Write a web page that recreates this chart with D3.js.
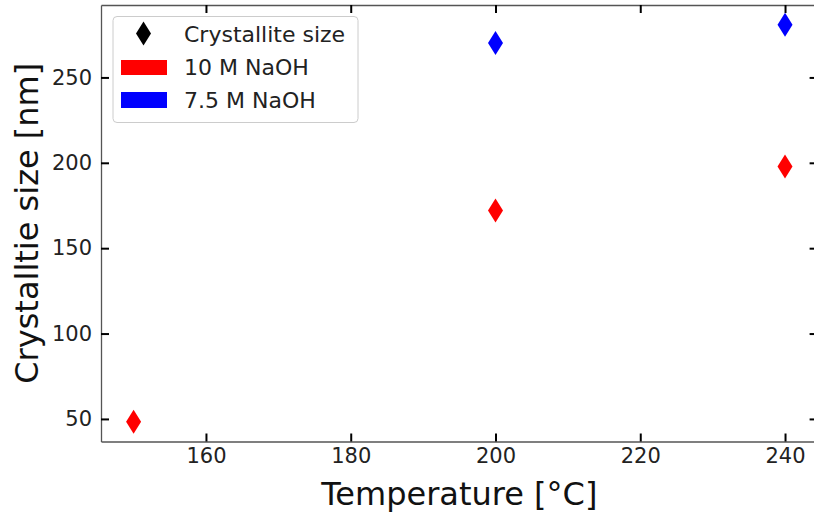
<!DOCTYPE html>
<html><head><meta charset="utf-8">
<script src="https://cdn.jsdelivr.net/npm/d3@7"></script>
<style>body{margin:0;background:#fff;} svg{display:block;font-family:"DejaVu Sans",sans-serif;}</style>
</head><body>
<svg id="c" width="814" height="513"></svg>
<script>
const temps10 = [150, 200, 240];
const size10 = [48.4, 172, 197.8];
const temps75 = [200, 240];
const size75 = [270.2, 280.8];
const xTicks = [160, 180, 200, 220, 240];
const yTicks = [50, 100, 150, 200, 250];
const legendLabels = ["Crystallite size", "10 M NaOH", "7.5 M NaOH"];
const seriesColors = ["#ff0000", "#0000ff"];

const svg = d3.select("#c");
const L = 101, R = 817.6, T = 5, B = 441.5;
const allX = temps10.concat(temps75), allY = size10.concat(size75);
const xMin = d3.min(allX), xMax = d3.max(allX), yMin = d3.min(allY), yMax = d3.max(allY);
const xm = (xMax - xMin) * 0.05, ym = (yMax - yMin) * 0.05;
const x = d3.scaleLinear().domain([xMin - xm, xMax + xm]).range([L, R]);
const y = d3.scaleLinear().domain([yMin - ym, yMax + ym]).range([B, T]);

// ticks inward
const tickLen = 8;
const xb = svg.append("g").attr("transform", `translate(0,${B})`)
  .call(d3.axisBottom(x).tickValues(xTicks).tickSizeInner(-tickLen).tickSizeOuter(0).tickPadding(7));
const xt = svg.append("g").attr("transform", `translate(0,${T})`)
  .call(d3.axisTop(x).tickValues(xTicks).tickSizeInner(-tickLen).tickSizeOuter(0).tickFormat(""));
const yl = svg.append("g").attr("transform", `translate(${L},0)`)
  .call(d3.axisLeft(y).tickValues(yTicks).tickSizeInner(-tickLen).tickSizeOuter(0).tickPadding(9));
const yr = svg.append("g").attr("transform", `translate(${R},0)`)
  .call(d3.axisRight(y).tickValues(yTicks).tickSizeInner(-tickLen).tickSizeOuter(0).tickFormat(""));
[xb, xt, yl, yr].forEach(g => {
  g.select(".domain").attr("stroke", "#555").attr("stroke-width", 1.3);
  g.selectAll(".tick line").attr("stroke", "#000").attr("stroke-width", 2);
  g.selectAll(".tick text").attr("fill", "#222").attr("font-size", 21).attr("font-family", "DejaVu Sans");
});

// diamond path (thin diamond)
function diamond(cx, cy, hw, hh) {
  return `M${cx},${cy - hh}L${cx + hw},${cy}L${cx},${cy + hh}L${cx - hw},${cy}Z`;
}
const pts = temps10.map((t, i) => ({t, v: size10[i], c: seriesColors[0]}))
  .concat(temps75.map((t, i) => ({t, v: size75[i], c: seriesColors[1]})));
svg.append("g").selectAll("path").data(pts).join("path")
  .attr("d", d => diamond(x(d.t), y(d.v), 7.5, 12)).attr("fill", d => d.c);

// axis labels
svg.append("text").attr("x", (L + R) / 2).attr("y", 504.5).attr("text-anchor", "middle")
  .attr("font-size", 32).attr("fill", "#111").text("Temperature [°C]");
svg.append("text").attr("transform", `translate(38,${(T + B) / 2}) rotate(-90)`).attr("text-anchor", "middle")
  .attr("font-size", 32).attr("fill", "#111").text("Crystalltie size [nm]");

// legend
const lg = svg.append("g");
lg.append("rect").attr("x", 113).attr("y", 16.5).attr("width", 245).attr("height", 106).attr("rx", 4)
  .attr("fill", "#fff").attr("fill-opacity", 0.8).attr("stroke", "#ccc").attr("stroke-width", 1);
lg.append("path").attr("d", diamond(143.5, 33.5, 7.5, 12)).attr("fill", "#000");
lg.append("rect").attr("x", 121).attr("y", 60).attr("width", 46).attr("height", 15).attr("fill", seriesColors[0]);
lg.append("rect").attr("x", 121).attr("y", 92).attr("width", 46).attr("height", 16).attr("fill", seriesColors[1]);
legendLabels.forEach((t, i) => {
  lg.append("text").attr("x", 184).attr("y", 42 + i * 33).attr("font-size", 22).attr("fill", "#222").text(t);
});
</script>
</body></html>
